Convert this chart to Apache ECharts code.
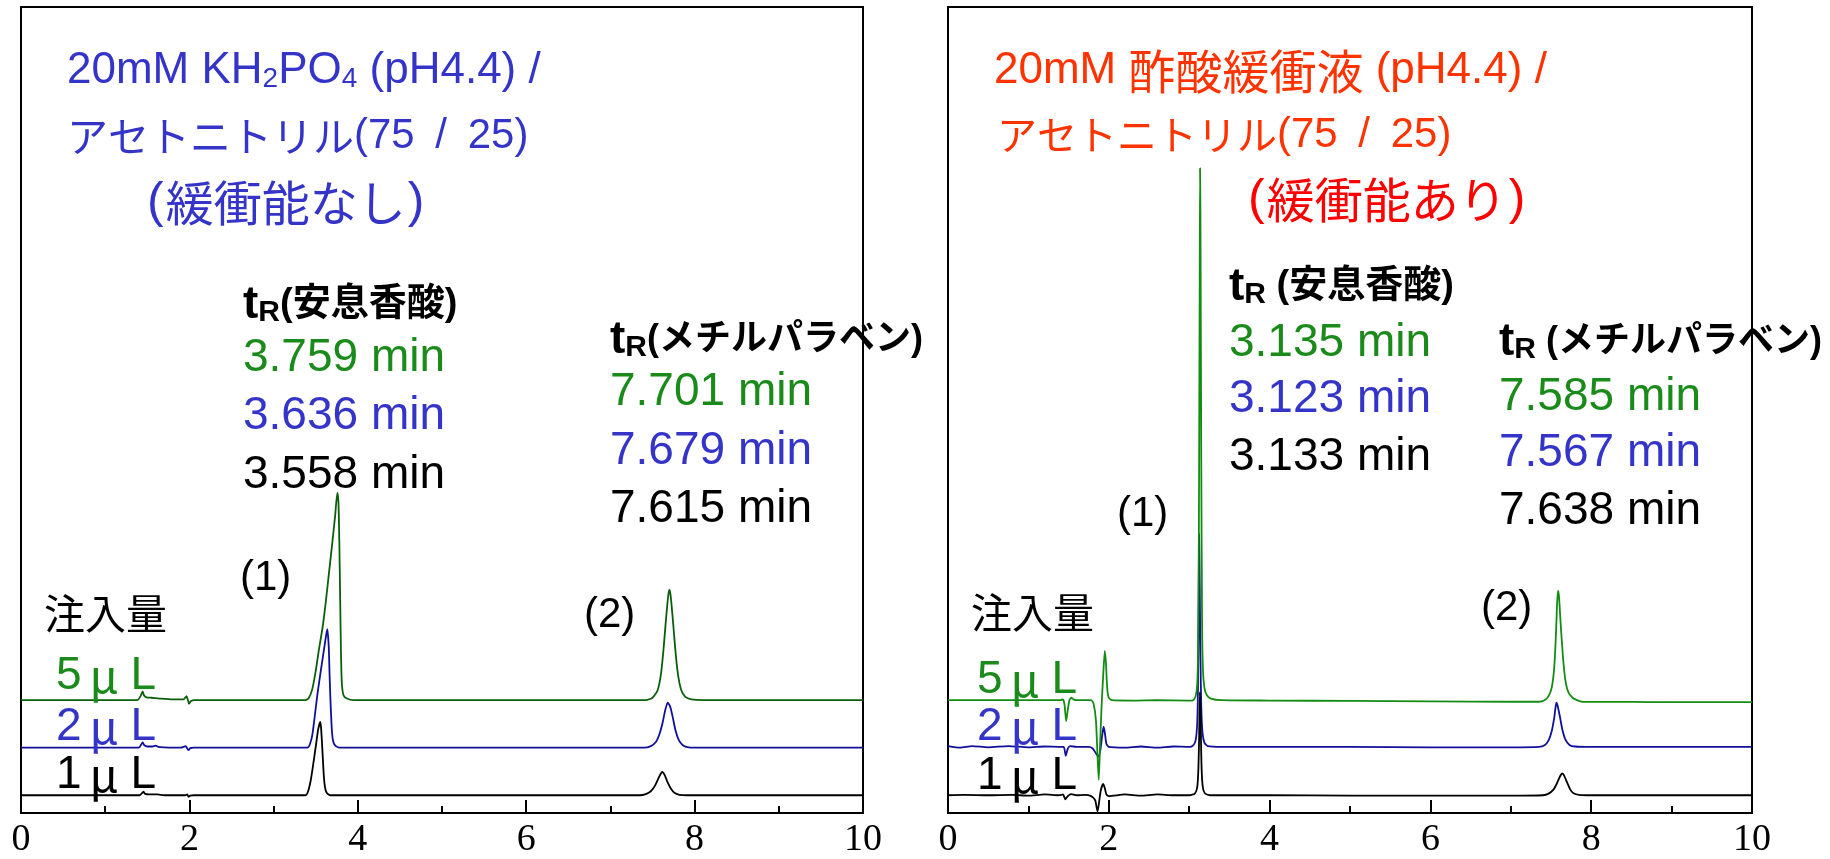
<!DOCTYPE html>
<html>
<head>
<meta charset="utf-8">
<script src="https://cdn.jsdelivr.net/npm/echarts@6/dist/echarts.min.js"></script>
<style>
html,body{margin:0;padding:0;background:#fff;}
#c{width:1830px;height:859px;}
</style>
</head>
<body>
<div id="c"></div>
<script>
// ---------------- data ----------------
const xTickValues = [0, 2, 4, 6, 8, 10];
const injectionLabels = ['1μL', '2μL', '5μL'];

// vertical offsets of each trace (same arbitrary signal units as the traces)
const leftOffsets = [2.2, 8.1, 14.0];   // 1μL, 2μL, 5μL  (緩衝能なし)
const rightOffsets = [2.2, 8.2, 14.0];  // 1μL, 2μL, 5μL  (緩衝能あり)

// left panel: 20mM KH2PO4 — [time (min), signal]
const left5uL = [[0,0],[0.5,0],[1.0,0],[1.38,0],[1.42,0.5],[1.445,1.1],[1.46,0.6],[1.49,0.35],[1.55,0.3],[1.65,0.2],[1.8,0.1],[1.93,0.1],[1.965,0.5],[1.98,0.1],[1.995,-0.45],[2.02,-0.1],[2.06,0],[2.5,0],[3.0,0],[3.38,0],[3.42,0.3],[3.46,1.4],[3.50,3.6],[3.54,6.4],[3.58,8.9],[3.62,12.2],[3.66,16],[3.70,19.8],[3.73,22.8],[3.757,25.7],[3.77,24.6],[3.78,20],[3.79,13],[3.80,6],[3.81,2.2],[3.83,0.6],[3.87,0.2],[3.95,0],[4.5,0],[5,0],[6,0],[7,0],[7.42,0],[7.50,0.3],[7.56,1.2],[7.60,3.2],[7.63,6.2],[7.66,10],[7.685,12.8],[7.70,13.7],[7.715,13.0],[7.74,10.2],[7.77,6.4],[7.80,3.4],[7.84,1.3],[7.89,0.4],[7.96,0.1],[8.1,0],[9,0],[10,0]];
const left2uL = [[0,0],[1.0,0],[1.40,0],[1.425,0.35],[1.445,0.65],[1.465,0.3],[1.5,0.15],[1.56,0.15],[1.6,0.25],[1.63,0.1],[1.7,0.05],[1.9,0],[1.955,0.2],[1.975,-0.1],[1.99,-0.3],[2.01,-0.05],[2.05,0],[3.0,0],[3.40,0],[3.43,0.4],[3.46,1.6],[3.49,4],[3.52,6.6],[3.56,9.5],[3.60,12.3],[3.625,14],[3.638,14.7],[3.655,12.5],[3.665,9],[3.675,6],[3.69,2.5],[3.705,0.9],[3.73,0.3],[3.78,0],[5,0],[7,0],[7.40,0],[7.48,0.2],[7.54,0.7],[7.58,1.6],[7.62,3.1],[7.65,4.6],[7.68,5.6],[7.71,5.1],[7.74,3.8],[7.77,2.3],[7.81,1],[7.86,0.3],[7.93,0.05],[8.1,0],[10,0]];
const left1uL = [[0,0],[1.0,0],[1.41,0],[1.44,0.3],[1.455,0.45],[1.47,0.2],[1.52,0.1],[1.62,0.1],[1.7,0],[1.95,0],[1.975,0.1],[1.99,-0.2],[2.01,-0.05],[2.05,0],[3.0,0],[3.38,0],[3.41,0.5],[3.44,1.8],[3.47,3.8],[3.50,6],[3.53,8.2],[3.555,9.1],[3.565,8.2],[3.58,5.5],[3.595,2.6],[3.61,1],[3.63,0.3],[3.67,0],[5,0],[7,0],[7.35,0],[7.42,0.15],[7.48,0.5],[7.53,1.2],[7.57,2.1],[7.60,2.7],[7.615,2.9],[7.645,2.5],[7.68,1.6],[7.72,0.8],[7.76,0.3],[7.82,0.05],[7.9,0],[10,0]];

// right panel: 20mM 酢酸緩衝液 — [time (min), signal]
const right5uL = [[0,0],[0.5,0],[1.0,0],[1.40,0],[1.43,0.1],[1.45,-0.6],[1.47,-2.6],[1.49,-1.2],[1.51,0],[1.535,0.3],[1.56,0.1],[1.6,0],[1.78,0],[1.81,-0.4],[1.84,-2.5],[1.86,-7],[1.875,-9.9],[1.89,-6],[1.91,-0.8],[1.93,3],[1.95,6.1],[1.965,4.5],[1.98,1.5],[2.0,0.3],[2.04,0],[2.3,-0.05],[2.6,0],[3.0,-0.05],[3.05,0],[3.08,0.5],[3.10,2],[3.11,6],[3.12,20],[3.13,50],[3.135,66],[3.14,60],[3.15,30],[3.16,10],[3.17,4],[3.19,1.5],[3.22,0.6],[3.27,0.2],[3.4,0],[4,-0.05],[5,-0.1],[6,-0.15],[7,-0.2],[7.35,-0.2],[7.42,0],[7.47,0.5],[7.51,1.6],[7.54,4],[7.56,7.8],[7.575,11.8],[7.587,13.6],[7.60,12.8],[7.62,9.5],[7.65,5.2],[7.68,2.4],[7.72,0.9],[7.78,0.2],[7.9,-0.2],[8.5,-0.22],[9,-0.25],[10,-0.25]];
const right2uL = [[0,0.1],[0.15,-0.1],[0.3,0.1],[0.5,-0.05],[0.75,0.1],[1.0,-0.05],[1.2,0.05],[1.40,0],[1.44,0],[1.465,-1.1],[1.49,-0.2],[1.52,0.1],[1.6,0],[1.75,0],[1.8,-0.2],[1.84,-0.8],[1.87,-1.2],[1.895,-0.4],[1.915,1.2],[1.935,2.5],[1.95,1.8],[1.97,0.4],[2.0,0],[2.2,-0.1],[2.4,0.05],[2.6,-0.1],[2.8,0.05],[3.0,0],[3.05,0.2],[3.08,0.8],[3.10,3],[3.11,8],[3.118,18],[3.123,26.4],[3.13,21],[3.14,11],[3.15,5],[3.165,1.8],[3.19,0.5],[3.23,0.1],[3.4,0],[4,0],[5,0],[6,-0.05],[7,-0.05],[7.35,0],[7.42,0.2],[7.47,0.8],[7.51,2],[7.54,3.6],[7.555,4.8],[7.567,5.5],[7.58,5.2],[7.61,3.8],[7.64,2.2],[7.68,0.9],[7.73,0.25],[7.8,0.05],[8,0],[10,0]];
const right1uL = [[0,0],[0.2,0.05],[0.5,0],[0.8,0.05],[1.0,-0.05],[1.2,0.1],[1.38,0],[1.43,0.1],[1.46,-0.5],[1.49,-0.1],[1.53,0.15],[1.6,0],[1.7,0.05],[1.78,-0.1],[1.83,-0.6],[1.86,-2],[1.88,-0.8],[1.9,0.6],[1.93,1.4],[1.95,0.9],[1.97,0.1],[2.0,-0.1],[2.2,0.1],[2.4,-0.05],[2.6,0.1],[2.8,0],[3.0,0],[3.07,0.2],[3.10,1],[3.115,3.5],[3.125,8],[3.133,12.8],[3.14,10.5],[3.15,5],[3.16,2],[3.175,0.7],[3.2,0.2],[3.26,0],[4,0],[5,-0.05],[6,-0.05],[7,-0.05],[7.4,0],[7.47,0.2],[7.53,0.7],[7.57,1.4],[7.61,2.3],[7.638,2.7],[7.66,2.5],[7.70,1.6],[7.74,0.7],[7.78,0.25],[7.85,0.05],[8,0],[10,0]];

// retention-time annotations
const leftRtBenzoic = ['3.759 min', '3.636 min', '3.558 min'];
const leftRtParaben = ['7.701 min', '7.679 min', '7.615 min'];
const rightRtBenzoic = ['3.135 min', '3.123 min', '3.133 min'];
const rightRtParaben = ['7.585 min', '7.567 min', '7.638 min'];

// ---------------- styling ----------------
const LAT = "'Liberation Sans', Arial, 'Noto Sans CJK JP', sans-serif";
const JP = "'Noto Sans CJK JP', sans-serif";
const C_TXT = {green: '#1a8a1a', blue: '#3434c8', black: '#000'};
const C_LINE_L = ['#000000', '#10109a', '#0b5e0b'];
const C_LINE_R = ['#000000', '#10109a', '#148c14'];
const txtColors = [C_TXT.green, C_TXT.blue, C_TXT.black];

function shift(arr, off) { return arr.map(p => [p[0], p[1] + off]); }

function T(x, y, text, style) {
  return {type: 'text', x: x, y: y, z: 100,
    style: Object.assign({text: text, textAlign: 'left', textVerticalAlign: 'middle'}, style)};
}
function richTxt(x, y, text, rich, fill) {
  return T(x, y, text, {rich: rich, fill: fill});
}

const title1Rich = (col) => ({
  a: {fontFamily: LAT, fontSize: 44, lineHeight: 44, fill: col},
  k: {fontFamily: JP, fontSize: 47, lineHeight: 44, fill: col},
  s: {fontFamily: LAT, fontSize: 28, lineHeight: 12, verticalAlign: 'bottom', fill: col}
});
const title2Rich = (col, kSize) => ({
  k: {fontFamily: JP, fontSize: kSize, lineHeight: 44, fill: col},
  n: {fontFamily: LAT, fontSize: 42, lineHeight: 44, fill: col},
  s: {fontFamily: LAT, fontSize: 42, lineHeight: 44, fill: col, padding: [0, 9, 0, 9]}
});
const title3Rich = (col) => ({
  p: {fontFamily: LAT, fontSize: 50, lineHeight: 52, fill: col, padding: [0, 2, 0, 2]},
  k: {fontFamily: JP, fontSize: 48, lineHeight: 52, fill: col}
});
const trRich = (kSize) => ({
  t: {fontFamily: LAT, fontSize: 46, fontWeight: 'bold', lineHeight: 46, fill: '#000'},
  r: {fontFamily: LAT, fontSize: 30, fontWeight: 'bold', lineHeight: 14, verticalAlign: 'bottom', fill: '#000'},
  k: {fontFamily: LAT, fontSize: kSize, fontWeight: 'bold', lineHeight: 46, fill: '#000'}
});
const uRich = (col) => ({
  n: {fontFamily: LAT, fontSize: 46, lineHeight: 46, fill: col},
  m: {fontFamily: JP, fontSize: 46, lineHeight: 46, fill: col, padding: [0, 12, 0, 8]}
});
function uLabel(x, y, i, col) {
  const s = injectionLabels[i];
  return richTxt(x, y, '{n|' + s[0] + '}{m|' + s[1] + '}{n|' + s.slice(2) + '}', uRich(col));
}

const graphics = [];
// ---- left panel texts
graphics.push(richTxt(67, 71, '{a|20mM KH}{s|2}{a|PO}{s|4}{a| (pH4.4) /}', title1Rich(C_TXT.blue)));
graphics.push(richTxt(67, 136, '{k|アセトニトリル}{n|(75 }{s|/}{n| 25)}', title2Rich(C_TXT.blue, 41)));
graphics.push(richTxt(145, 203, '{p|(}{k|緩衝能なし}{p|)}', title3Rich(C_TXT.blue)));
graphics.push(richTxt(243, 305, '{t|t}{r|R}{k|(安息香酸)}', trRich(38)));
graphics.push(richTxt(610, 340, '{t|t}{r|R}{k|(メチルパラベン)}', trRich(36)));
[358, 416, 475].forEach((y, i) => graphics.push(T(243, y, leftRtBenzoic[i], {fontFamily: LAT, fontSize: 46, fill: txtColors[i]})));
[392, 451, 509].forEach((y, i) => graphics.push(T(610, y, leftRtParaben[i], {fontFamily: LAT, fontSize: 46, fill: txtColors[i]})));
graphics.push(T(240, 578, '(1)', {fontFamily: LAT, fontSize: 42, fill: '#000'}));
graphics.push(T(584, 615, '(2)', {fontFamily: LAT, fontSize: 42, fill: '#000'}));
graphics.push(T(44, 613, '注入量', {fontFamily: JP, fontSize: 41, fill: '#000'}));
graphics.push(uLabel(56, 676, 2, C_TXT.green));
graphics.push(uLabel(56, 727, 1, C_TXT.blue));
graphics.push(uLabel(56, 775, 0, C_TXT.black));

// ---- right panel texts
graphics.push(richTxt(994, 71, '{a|20mM }{k|酢酸緩衝液}{a| (pH4.4) /}', title1Rich('#ff3300')));
graphics.push(richTxt(997, 135, '{k|アセトニトリル}{n|(75 }{s|/}{n| 25)}', title2Rich('#ff3300', 40)));
graphics.push(richTxt(1246, 200, '{p|(}{k|緩衝能あり}{p|)}', title3Rich('#ff0000')));
graphics.push(richTxt(1229, 287, '{t|t}{r|R}{k| (安息香酸)}', trRich(38)));
graphics.push(richTxt(1499, 342, '{t|t}{r|R}{k| (メチルパラベン)}', trRich(36)));
[343, 399, 457].forEach((y, i) => graphics.push(T(1229, y, rightRtBenzoic[i], {fontFamily: LAT, fontSize: 46, fill: txtColors[i]})));
[397, 453, 511].forEach((y, i) => graphics.push(T(1499, y, rightRtParaben[i], {fontFamily: LAT, fontSize: 46, fill: txtColors[i]})));
graphics.push(T(1117, 514, '(1)', {fontFamily: LAT, fontSize: 42, fill: '#000'}));
graphics.push(T(1481, 608, '(2)', {fontFamily: LAT, fontSize: 42, fill: '#000'}));
graphics.push(T(971, 612, '注入量', {fontFamily: JP, fontSize: 41, fill: '#000'}));
graphics.push(uLabel(977, 680, 2, C_TXT.green));
graphics.push(uLabel(977, 727, 1, C_TXT.blue));
graphics.push(uLabel(977, 776, 0, C_TXT.black));

// ---------------- chart ----------------
function xAxisDef(gi) {
  return {
    type: 'value', gridIndex: gi, min: 0, max: 10, interval: 2,
    axisLine: {show: true, onZero: false, lineStyle: {color: '#000', width: 2}},
    axisTick: {show: true, inside: true, length: 13, lineStyle: {color: '#000', width: 2}},
    minorTick: {show: true, splitNumber: 2, length: 7, lineStyle: {color: '#000', width: 2}},
    splitLine: {show: false}, minorSplitLine: {show: false},
    axisLabel: {show: true, margin: 8, fontFamily: "'Liberation Serif', 'Times New Roman', serif", fontSize: 38, color: '#000',
      customValues: xTickValues}
  };
}
function yAxisDef(gi) {
  return {type: 'value', gridIndex: gi, min: 0, max: 100, show: false, splitLine: {show: false}};
}
function lineSeries(gi, data, color, z) {
  return {type: 'line', xAxisIndex: gi, yAxisIndex: gi, data: data, showSymbol: false, symbol: 'none', z: z,
    smooth: 0.2, lineStyle: {color: color, width: 1.8}, silent: true, animation: false};
}

// drawing order: blue (2μL) underneath, then black (1μL), then green (5μL)
const series = [
  lineSeries(0, shift(left2uL, leftOffsets[1]), C_LINE_L[1], 2),
  lineSeries(0, shift(left1uL, leftOffsets[0]), C_LINE_L[0], 3),
  lineSeries(0, shift(left5uL, leftOffsets[2]), C_LINE_L[2], 4),
  lineSeries(1, shift(right2uL, rightOffsets[1]), C_LINE_R[1], 2),
  lineSeries(1, shift(right1uL, rightOffsets[0]), C_LINE_R[0], 3),
  lineSeries(1, shift(right5uL, rightOffsets[2]), C_LINE_R[2], 4)
];

const chart = echarts.init(document.getElementById('c'), null, {renderer: 'canvas'});
chart.setOption({
  animation: false,
  backgroundColor: '#fff',
  grid: [
    {left: 21, top: 7, width: 842, height: 806, show: true, borderColor: '#000', borderWidth: 2, containLabel: false},
    {left: 948, top: 7, width: 804, height: 808, show: true, borderColor: '#000', borderWidth: 2, containLabel: false}
  ],
  xAxis: [xAxisDef(0), xAxisDef(1)],
  yAxis: [yAxisDef(0), yAxisDef(1)],
  series: series,
  graphic: graphics
});
</script>
</body>
</html>
